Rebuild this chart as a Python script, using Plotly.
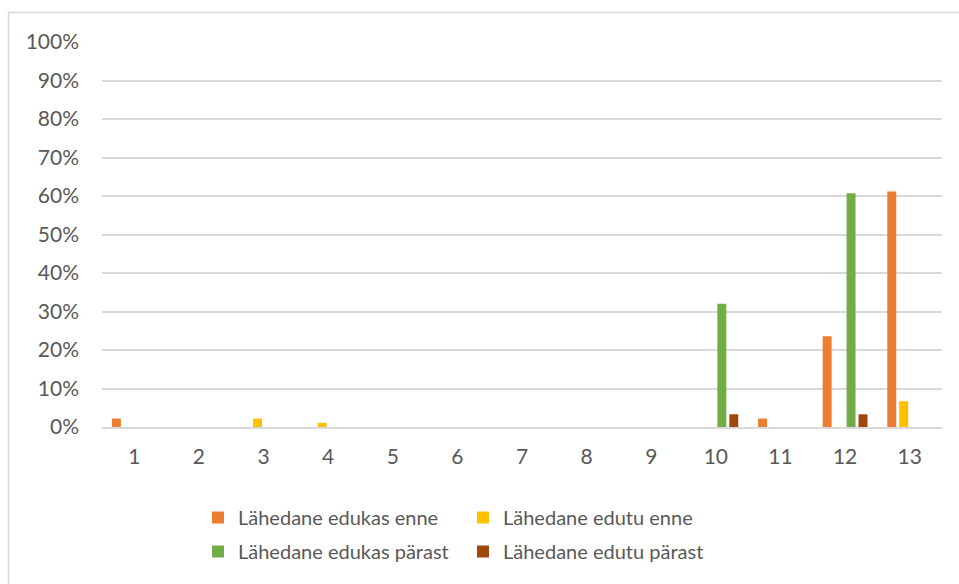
import plotly.graph_objects as go

# Categories on the x axis
categories = [str(i) for i in range(1, 14)]

# Shares per category (fractions of 1)
edukas_enne = [0.022, 0, 0, 0, 0, 0, 0, 0, 0, 0, 0.022, 0.236, 0.612]
edutu_enne = [0, 0, 0.022, 0.011, 0, 0, 0, 0, 0, 0, 0, 0, 0.067]
edukas_parast = [0, 0, 0, 0, 0, 0, 0, 0, 0, 0.320, 0, 0.607, 0]
edutu_parast = [0, 0, 0, 0, 0, 0, 0, 0, 0, 0.033, 0, 0.033, 0]

series_names = [
    "Lähedane edukas enne",
    "Lähedane edutu enne",
    "Lähedane edukas pärast",
    "Lähedane edutu pärast",
]
series_values = [edukas_enne, edutu_enne, edukas_parast, edutu_parast]
series_colors = ["#ED7D31", "#FFC000", "#70AD47", "#9E480E"]
series_legend = ["legend", "legend", "legend2", "legend2"]

y_ticks = [i / 10 for i in range(11)]
y_tick_text = [f"{i * 10}%" for i in range(11)]

FONT = "Lato"
TEXT = "#595959"
GRID = "#D9D9D9"

W, H = 959, 584
ML, MR, MT, MB = 102, 17, 42, 157
PW, PH = W - ML - MR, H - MT - MB


def px_to_paper_x(px):
    return (px - ML) / PW


def px_to_paper_y(py):
    return (H - MB - py) / PH


fig = go.Figure()
for name, vals, col, lg in zip(series_names, series_values, series_colors, series_legend):
    fig.add_trace(
        go.Bar(
            x=categories,
            y=vals,
            name=name,
            marker=dict(color=col, line=dict(width=0)),
            legend=lg,
        )
    )

# Chart frame (only its top and left edges fall inside the page)
frame = dict(color=GRID, width=1.5)
fig.add_shape(type="line", xref="paper", yref="paper",
              x0=px_to_paper_x(8), x1=px_to_paper_x(980),
              y0=px_to_paper_y(12.5), y1=px_to_paper_y(12.5), line=frame)
fig.add_shape(type="line", xref="paper", yref="paper",
              x0=px_to_paper_x(8.5), x1=px_to_paper_x(8.5),
              y0=px_to_paper_y(12), y1=px_to_paper_y(600), line=frame)

legend_common = dict(
    orientation="h",
    xanchor="left",
    yanchor="middle",
    x=px_to_paper_x(198),
    font=dict(family=FONT, size=20, color=TEXT),
    entrywidth=220,
    entrywidthmode="pixels",
    itemwidth=30,
    bgcolor="rgba(0,0,0,0)",
    traceorder="normal",
)

fig.update_layout(
    width=W,
    height=H,
    margin=dict(l=ML, r=MR, t=MT, b=MB, autoexpand=False),
    paper_bgcolor="white",
    plot_bgcolor="white",
    barmode="group",
    bargap=0.26,
    bargroupgap=0.25,
    font=dict(family=FONT, size=20, color=TEXT),
    showlegend=True,
    legend=dict(legend_common, y=px_to_paper_y(517.5)),
    legend2=dict(legend_common, y=px_to_paper_y(551.5)),
    xaxis=dict(
        type="category",
        showgrid=False,
        showline=True,
        linecolor=GRID,
        linewidth=2,
        ticks="",
        ticklabelstandoff=10,
        tickfont=dict(family=FONT, size=21, color=TEXT),
        fixedrange=True,
    ),
    yaxis=dict(
        range=[0, 1],
        tickvals=y_ticks,
        ticktext=y_tick_text,
        showgrid=True,
        gridcolor=GRID,
        gridwidth=2,
        zeroline=False,
        showline=False,
        ticks="",
        ticklabelstandoff=22,
        tickfont=dict(family=FONT, size=21, color=TEXT),
        fixedrange=True,
    ),
)

fig.write_html("out.html")
